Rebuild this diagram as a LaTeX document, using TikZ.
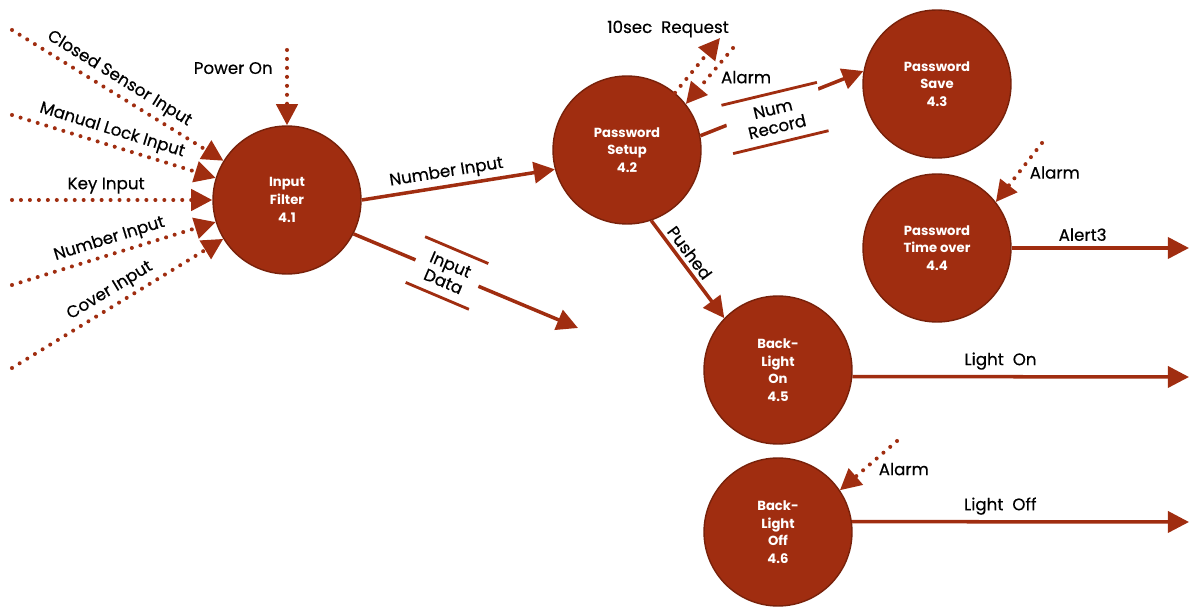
\documentclass[tikz,border=0pt]{standalone}
\usepackage{fontspec}
\setmainfont{Poppins}
\newfontfamily\lblfont{Poppins}[FakeBold=0.4]
\usetikzlibrary{arrows.meta}
\definecolor{rust}{RGB}{160,45,16}
\definecolor{rustdark}{RGB}{120,33,10}
\tikzset{
  proc/.style={circle, fill=rust, draw=rustdark, line width=0.8pt, minimum size=2.96cm,
    inner sep=0pt, align=center, text=white, font=\bfseries\fontsize{7.5}{10}\selectfont},
  flow/.style={draw=rust, line width=2pt, -{Triangle[length=12pt,width=12pt]}},
  inflow/.style={flow, line width=2.3pt, line cap=round, dash pattern=on 0pt off 5.1pt},
  lbl/.style={font=\lblfont\fontsize{9.5}{11}\selectfont, inner sep=1pt},
  store/.style={fill=white, minimum height=0.98cm, inner sep=0pt, align=center,
    font=\lblfont\fontsize{9.5}{10.5}\selectfont},
  storeline/.style={draw=rust, line width=1.6pt}
}
\begin{document}
\begin{tikzpicture}[x=0.02cm, y=-0.02cm]
  \useasboundingbox (0,0) rectangle (1189,607);

  % processes
  \node[proc] (f41) at (287,200) {Input\\Filter\\4.1};
  \node[proc] (f42) at (627,150) {Password\\Setup\\4.2};
  \node[proc] (f43) at (937,84)  {Password\\Save\\4.3};
  \node[proc] (f44) at (937,248) {Password\\Time over\\4.4};
  \node[proc] (f45) at (778,370) {Back-\\Light\\On\\4.5};
  \node[proc] (f46) at (778,532) {Back-\\Light\\Off\\4.6};

  % free ends
  \coordinate (cs) at (12,30);
  \coordinate (ml) at (12,115);
  \coordinate (ki) at (12,200);
  \coordinate (ni) at (12,285);
  \coordinate (ci) at (12,368);
  \coordinate (po) at (287,50);
  \coordinate (dout) at (578,328);
  \coordinate (req) at (720,38);
  \coordinate (al42) at (733,48);
  \coordinate (al44) at (1042,143);
  \coordinate (al46) at (897,441);
  \coordinate (a3) at (1189,248);
  \coordinate (lon) at (1189,377);
  \coordinate (loff) at (1189,522);

  % inputs of 4.1
  \draw[inflow] (cs) -- node[lbl, sloped, above=1.5pt, pos=.47] {Closed Sensor Input} (f41);
  \draw[inflow] (ml) -- node[lbl, sloped, above=1.5pt, pos=.47] {Manual Lock Input} (f41);
  \draw[inflow] (ki) -- node[lbl, above=1.5pt, pos=.47] {Key Input} (f41);
  \draw[inflow] (ni) -- node[lbl, sloped, above=1.5pt, pos=.5] {Number Input} (f41);
  \draw[inflow] (ci) -- node[lbl, sloped, above=1.5pt, pos=.5] {Cover Input} (f41);
  \draw[inflow] (po) -- node[lbl, left=6pt, pos=.24] {Power On} (f41);

  \draw[flow] (f41.0) -- node[lbl, sloped, above=1pt, pos=.45] {Number Input} (f42.195);

  % data flows through stores
  \draw[flow] (f41.-27) -- (dout);
  \node[store, rotate=-23, minimum width=1.36cm] (dd) at (447,273) {Input\\Data};
  \draw[storeline] (dd.north west) -- (dd.north east) (dd.south west) -- (dd.south east);

  \draw[flow] (f42.11) -- (f43.170);
  \node[store, rotate=13.5, minimum width=1.95cm] (nr) at (775,118) {Num\\Record};
  \draw[storeline] (nr.north west) -- (nr.north east) (nr.south west) -- (nr.south east);

  % around 4.2
  \draw[inflow] (f42.50) -- (req);
  \node[lbl] (treq) at (668,29) {10sec\ \ Request};
  \draw[inflow] (al42) -- node[lbl, right=5pt, pos=.52] {Alarm} (f42.38);
  \draw[flow] (f42.-71) -- node[lbl, sloped, above=1pt, pos=.4] {Pushed} (f45.136);

  % outputs
  \draw[inflow] (al44) -- node[lbl, right=4pt, pos=.5] {Alarm} (f44.38);
  \draw[flow] (f44.east) -- node[lbl, above=2pt, pos=.4] {Alert3} (a3);
  \draw[flow] (f45.-5) -- node[lbl, above=2pt, pos=.44] {Light\ \ On} (lon);
  \draw[inflow] (al46) -- node[lbl, right=6pt, pos=.57] {Alarm} (f46.34);
  \draw[flow] (f46.8) -- node[lbl, above=2pt, pos=.44] {Light\ \ Off} (loff);
\end{tikzpicture}
\end{document}
